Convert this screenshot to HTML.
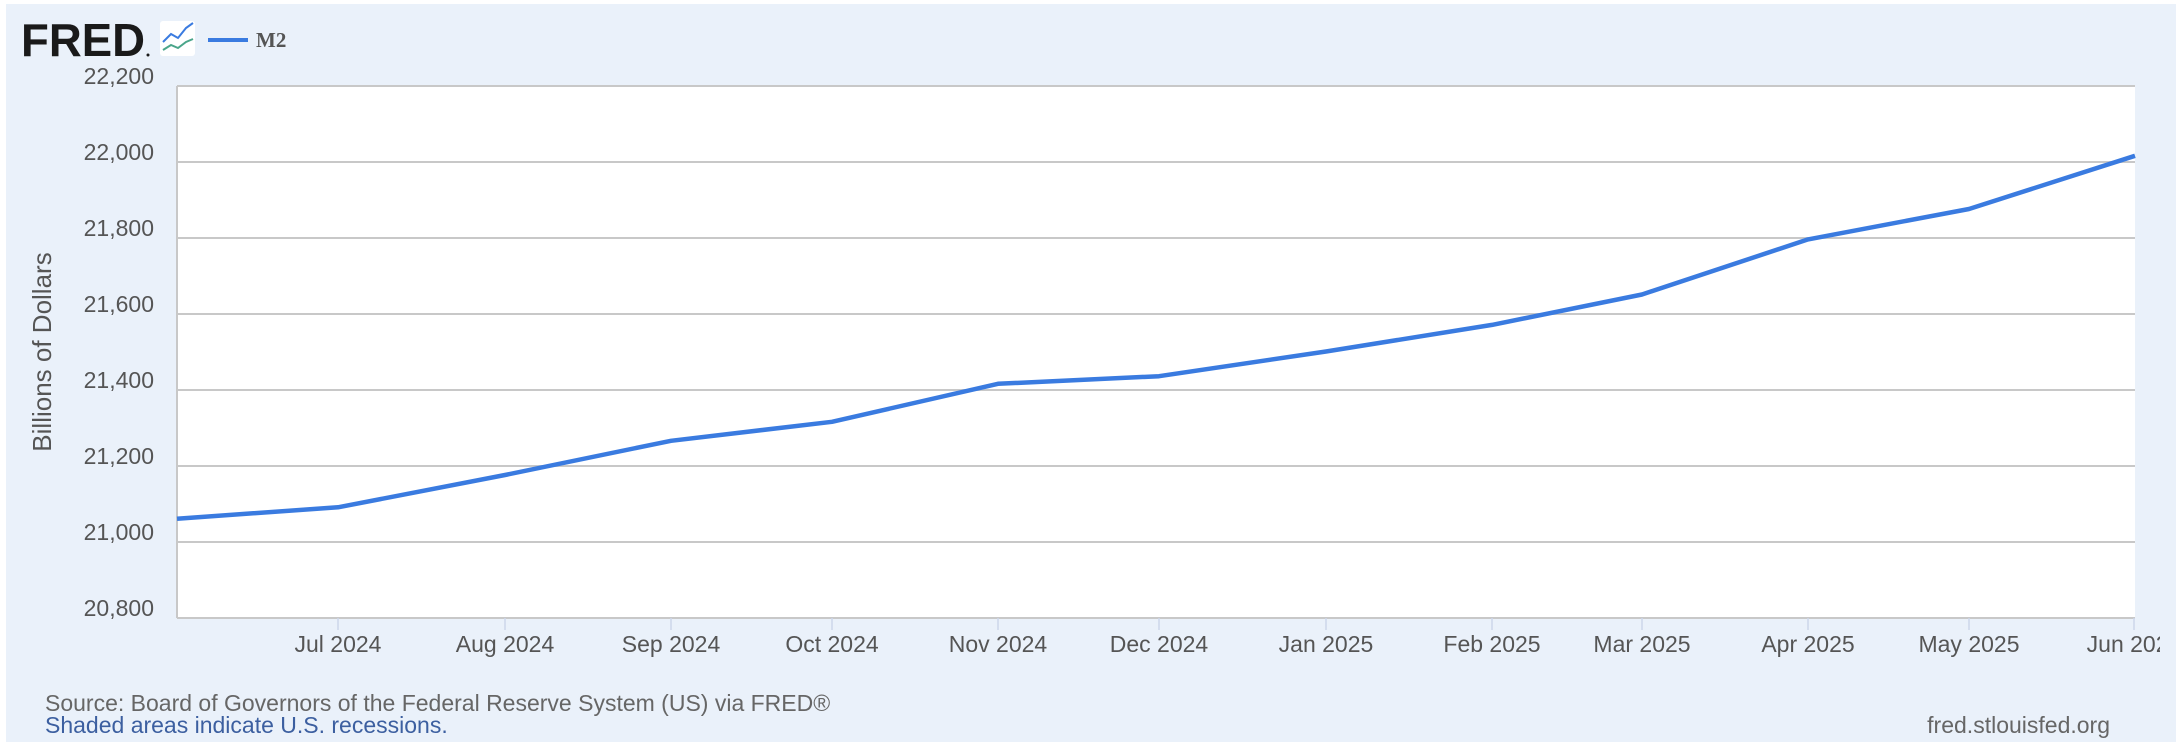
<!DOCTYPE html>
<html><head><meta charset="utf-8"><style>
html,body{margin:0;padding:0;background:#fff;}
svg{display:block;font-family:"Liberation Sans",Arial,sans-serif;}
</style></head><body>
<svg width="2176" height="750" viewBox="0 0 2176 750" xmlns="http://www.w3.org/2000/svg">
<rect x="6" y="4" width="2170" height="738" fill="#eaf1fa"/>
<rect x="177" y="86" width="1958" height="532" fill="#fff"/>
<g stroke="#c8c8c8" stroke-width="2">
<line x1="177" x2="2135" y1="86" y2="86"/>
<line x1="177" x2="2135" y1="162" y2="162"/>
<line x1="177" x2="2135" y1="238" y2="238"/>
<line x1="177" x2="2135" y1="314" y2="314"/>
<line x1="177" x2="2135" y1="390" y2="390"/>
<line x1="177" x2="2135" y1="466" y2="466"/>
<line x1="177" x2="2135" y1="542" y2="542"/>
<line x1="177" x2="2135" y1="618" y2="618"/>
<line x1="177" x2="177" y1="86" y2="618"/>
</g>
<g stroke="#ccd6eb" stroke-width="1.5">
<line x1="338" x2="338" y1="618" y2="630"/><line x1="505" x2="505" y1="618" y2="630"/>
<line x1="671" x2="671" y1="618" y2="630"/><line x1="832" x2="832" y1="618" y2="630"/>
<line x1="998" x2="998" y1="618" y2="630"/><line x1="1159" x2="1159" y1="618" y2="630"/>
<line x1="1326" x2="1326" y1="618" y2="630"/><line x1="1492" x2="1492" y1="618" y2="630"/>
<line x1="1642" x2="1642" y1="618" y2="630"/><line x1="1808" x2="1808" y1="618" y2="630"/>
<line x1="1969" x2="1969" y1="618" y2="630"/><line x1="2134" x2="2134" y1="618" y2="630"/>
</g>
<g fill="#555" font-size="23" text-anchor="end">
<text x="154" y="84">22,200</text><text x="154" y="160">22,000</text>
<text x="154" y="236">21,800</text><text x="154" y="312">21,600</text>
<text x="154" y="388">21,400</text><text x="154" y="464">21,200</text>
<text x="154" y="540">21,000</text><text x="154" y="616">20,800</text>
</g>
<text transform="translate(51,352) rotate(-90)" fill="#555" font-size="26" text-anchor="middle">Billions of Dollars</text>
<g fill="#555" font-size="23" text-anchor="middle">
<text x="338" y="652">Jul 2024</text><text x="505" y="652">Aug 2024</text>
<text x="671" y="652">Sep 2024</text><text x="832" y="652">Oct 2024</text>
<text x="998" y="652">Nov 2024</text><text x="1159" y="652">Dec 2024</text>
<text x="1326" y="652">Jan 2025</text><text x="1492" y="652">Feb 2025</text>
<text x="1642" y="652">Mar 2025</text><text x="1808" y="652">Apr 2025</text>
<text x="1969" y="652">May 2025</text><text x="2134" y="652">Jun 2025</text>
</g>
<rect x="2160" y="630" width="16" height="40" fill="#eaf1fa"/>
<polyline fill="none" stroke="#3a7be0" stroke-width="4.5" stroke-linejoin="round"
points="177,518.7 338,507.3 505,475 671,440.8 832,421.8 998,383.8 1159,376.2 1326,351.5 1492,324.9 1642,294.5 1808,239.4 1969,209 2135,155.8"/>
<text x="21" y="56" font-size="46" font-weight="bold" fill="#1a1a1a" textLength="124" lengthAdjust="spacingAndGlyphs">FRED</text>
<circle cx="148" cy="55" r="1.5" fill="#1a1a1a"/>
<rect x="160" y="21" width="35" height="35" rx="3" fill="#fff"/>
<polyline points="163,42 171,34 178,38 186,28 193,23" fill="none" stroke="#3a7be0" stroke-width="2"/>
<polyline points="163,50 171,45 178,48 186,42 193,39" fill="none" stroke="#4aa58a" stroke-width="2"/>
<line x1="208" x2="248" y1="40" y2="40" stroke="#3a7be0" stroke-width="4"/>
<text x="256" y="47" font-family="Liberation Serif,serif" font-weight="bold" font-size="21" fill="#555">M2</text>
<text x="45" y="711" font-size="23" fill="#666">Source: Board of Governors of the Federal Reserve System (US) via FRED®</text>
<text x="45" y="733" font-size="23" fill="#3c5fa0">Shaded areas indicate U.S. recessions.</text>
<text x="2110" y="733" font-size="23" fill="#666" text-anchor="end">fred.stlouisfed.org</text>
</svg>
</body></html>
